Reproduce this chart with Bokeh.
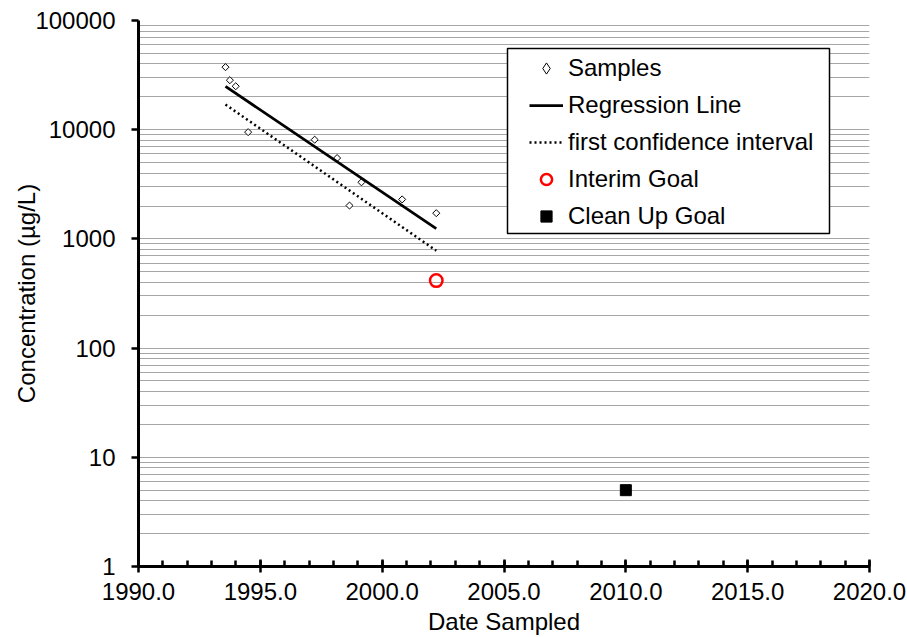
from bokeh.plotting import figure
from bokeh.models import (Range1d, FixedTicker, PrintfTickFormatter, Legend,
                          LegendItem, BoxAnnotation)
from bokeh.embed import file_html
from bokeh.resources import INLINE
import math

# ---- data ----
sample_year = [1993.57, 1993.75, 1993.99, 1994.50, 1997.23, 1998.15, 1998.66, 1999.15, 2000.82, 2002.22]
sample_conc = [37400, 28400, 25000, 9500, 8100, 5500, 2020, 3300, 2300, 1720]

regression_year = [1993.57, 2002.22]
regression_conc = [24900, 1240]

confidence_year = [1993.57, 2002.22]
confidence_conc = [17000, 780]

interim_year = [2002.22]
interim_conc = [415]

cleanup_year = [2010.0]
cleanup_conc = [5]

x_major = [1990, 1995, 2000, 2005, 2010, 2015, 2020]
x_minor = list(range(1990, 2021))
y_major = [1, 10, 100, 1000, 10000, 100000]
y_grid = [m * 10 ** k for k in range(0, 5) for m in range(1, 10)] + [100000]

FONT = "Liberation Sans"
FS = "24px"

p = figure(width=907, height=637, output_backend="svg", toolbar_location=None,
           x_range=Range1d(1990, 2020), y_range=Range1d(1, 100000),
           y_axis_type="log",
           min_border_left=138, min_border_right=38,
           min_border_top=20, min_border_bottom=71)
p.outline_line_color = None
p.background_fill_color = "white"
p.border_fill_color = "white"

# grid
p.xgrid.visible = False
p.ygrid.ticker = FixedTicker(ticks=y_grid)
p.ygrid.grid_line_color = "#a6a6a6"
p.ygrid.grid_line_width = 1

# x axis
xa = p.xaxis[0]
xa.ticker = FixedTicker(ticks=x_major, minor_ticks=x_minor)
xa.formatter = PrintfTickFormatter(format="%.1f")
xa.axis_label = "Date Sampled"
xa.axis_line_width = 3
xa.axis_line_color = "black"
xa.major_tick_line_width = 2.5
xa.major_tick_line_color = "black"
xa.minor_tick_line_width = 2.5
xa.minor_tick_line_color = "black"
xa.major_tick_in = 7
xa.major_tick_out = 6
xa.minor_tick_in = 6
xa.minor_tick_out = 0
xa.major_label_standoff = 10
xa.axis_label_standoff = 5

# y axis
ya = p.yaxis[0]
ya.ticker = FixedTicker(ticks=y_major, minor_ticks=[])
ya.formatter = PrintfTickFormatter(format="%d")
ya.axis_label = "Concentration (µg/L)"
ya.axis_line_width = 3
ya.axis_line_color = "black"
ya.major_tick_line_width = 2.5
ya.major_tick_line_color = "black"
ya.major_tick_in = 0
ya.major_tick_out = 7
ya.minor_tick_in = 0
ya.minor_tick_out = 0
ya.major_label_standoff = 16
ya.axis_label_standoff = -8

for ax in (xa, ya):
    ax.major_label_text_font = FONT
    ax.major_label_text_font_size = FS
    ax.major_label_text_color = "black"
    ax.axis_label_text_font = FONT
    ax.axis_label_text_font_size = FS
    ax.axis_label_text_font_style = "normal"
    ax.axis_label_text_color = "black"

# data
r_samples = p.scatter(sample_year, sample_conc, marker="square", angle=math.pi / 4,
                      size=5, fill_color="white", line_color="black", line_width=1)
# legend-only glyph (diamond) for the samples entry
r_samples_leg = p.scatter(sample_year, sample_conc, marker="diamond", size=7,
                          fill_color="white", line_color="black", line_width=1,
                          visible=False)
r_reg = p.line(regression_year, regression_conc, line_color="black", line_width=2.75)
r_conf = p.line(confidence_year, confidence_conc, line_color="black", line_width=2.5,
                line_dash="2 3")
r_interim = p.scatter(interim_year, interim_conc, marker="circle", size=12.5,
                      fill_color=None, line_color="#ff0000", line_width=2.5)
r_cleanup = p.scatter(cleanup_year, cleanup_conc, marker="square", size=11,
                      fill_color="black", line_color="black", line_width=1)

# legend frame
box = BoxAnnotation(left=507, right=829, top=48, bottom=233,
                    left_units="canvas", right_units="canvas",
                    top_units="canvas", bottom_units="canvas",
                    fill_color="white", fill_alpha=1.0,
                    line_color="black", line_width=1.5, line_alpha=1.0)
p.add_layout(box)

legend = Legend(items=[
    LegendItem(label="Samples", renderers=[r_samples_leg]),
    LegendItem(label="Regression Line", renderers=[r_reg]),
    LegendItem(label="first confidence interval", renderers=[r_conf]),
    LegendItem(label="Interim Goal", renderers=[r_interim]),
    LegendItem(label="Clean Up Goal", renderers=[r_cleanup]),
], location=(391, 336), padding=6, spacing=9, glyph_width=34, glyph_height=28,
   label_height=28, label_standoff=5, label_text_font=FONT,
   label_text_font_size=FS, label_text_color="black",
   border_line_color=None, background_fill_alpha=0.0, margin=0)
p.add_layout(legend)

open("out.html", "w").write(file_html(p, INLINE))
